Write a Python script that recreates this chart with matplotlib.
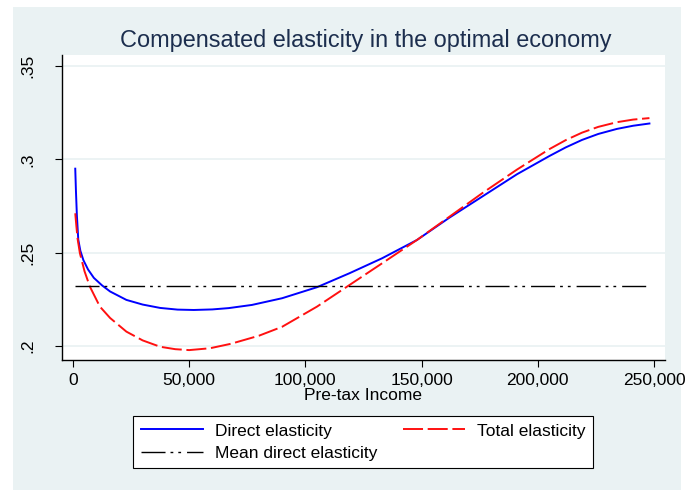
import matplotlib
matplotlib.use("Agg")
import matplotlib.pyplot as plt
from matplotlib.patches import Rectangle
from matplotlib.ticker import FuncFormatter

plt.rcParams["font.family"] = ["Liberation Sans", "DejaVu Sans"]

# Direct elasticity by pre-tax income
direct_income = [1000, 1300, 1700, 2300, 3200, 4500, 6500, 9000, 12500, 16000,
                 23000, 30000, 37500, 45000, 52000, 60000, 67000, 77000, 90000,
                 105000, 119000, 133000, 148000, 162000, 176000, 191000, 205000,
                 212000, 219000, 226000, 234000, 241000, 248000]
direct_elast = [0.2950, 0.2830, 0.2700, 0.2570, 0.2510, 0.2460, 0.2410, 0.2365,
                0.2325, 0.2292, 0.2247, 0.2222, 0.2204, 0.2195, 0.2193, 0.2196,
                0.2203, 0.2220, 0.2256, 0.2315, 0.2390, 0.2470, 0.2568, 0.2688,
                0.2800, 0.2920, 0.3018, 0.3064, 0.3104, 0.3136, 0.3163, 0.3180,
                0.3192]

# Total elasticity by pre-tax income
total_income = [1000, 1500, 2000, 3000, 5000, 7300, 11600, 16000, 23000, 30000,
                37500, 44000, 50000, 59000, 68000, 80000, 90000, 105000, 119000,
                133000, 148000, 162000, 176000, 191000, 205000, 212000, 219000,
                226000, 234000, 241000, 248000]
total_elast = [0.2711, 0.2640, 0.2575, 0.2497, 0.2400, 0.2318, 0.2211, 0.2150,
               0.2077, 0.2030, 0.1996, 0.1983, 0.1978, 0.1988, 0.2012, 0.2055,
               0.2103, 0.2211, 0.2327, 0.2443, 0.2568, 0.2693, 0.2818, 0.2945,
               0.3055, 0.3103, 0.3143, 0.3174, 0.3199, 0.3213, 0.3221]

mean_income = [1000, 248000]
mean_direct = 0.2322

x_ticks = [0, 50000, 100000, 150000, 200000, 250000]
y_ticks = [0.20, 0.25, 0.30, 0.35]
y_tick_labels = [".2", ".25", ".3", ".35"]

W, H = 685, 490
BG = "#eaf2f3"

fig = plt.figure(figsize=(W / 100, H / 100), dpi=100, facecolor="white")
fig.patches.append(Rectangle((13 / W, 0), (681 - 13) / W, 1 - 7 / H,
                             transform=fig.transFigure, facecolor=BG,
                             edgecolor="none", zorder=-1))

ax = fig.add_axes([62 / W, 1 - 360 / H, (665 - 62) / W, (360 - 55) / H])
ax.set_zorder(1)
ax.set_facecolor("white")

lw_black = 1.0
h_direct, = ax.plot(direct_income, direct_elast, color="#0000ff", lw=1.4,
                    label="Direct elasticity", zorder=3)
h_total, = ax.plot(total_income, total_elast, color="#ff1010", lw=1.4,
                   linestyle=(0, (10.3, 2.4)), label="Total elasticity", zorder=3)
h_mean, = ax.plot(mean_income, [mean_direct] * len(mean_income), color="black",
                  lw=lw_black,
                  linestyle=(0, (17.3 / lw_black, 3.6 / lw_black, 2.0 / lw_black,
                                 3.6 / lw_black, 2.0 / lw_black, 4.3 / lw_black)),
                  label="Mean direct elasticity", zorder=3)

ax.set_xlim(-4700, 254700)
ax.set_ylim(0.1925, 0.3559)

ax.set_xticks(x_ticks)
ax.xaxis.set_major_formatter(FuncFormatter(lambda v, _: f"{int(v):,}"))
ax.set_yticks(y_ticks)
ax.set_yticklabels(y_tick_labels, rotation=90, va="center")

ax.grid(axis="y", color=BG, lw=1.3, zorder=1)
ax.set_axisbelow(True)

for side in ("top", "right"):
    ax.spines[side].set_visible(False)
for side in ("left", "bottom"):
    ax.spines[side].set_linewidth(1.0)
    ax.spines[side].set_color("black")

ax.tick_params(axis="both", direction="out", length=5, width=0.8,
               labelsize=12.5, colors="black")
ax.tick_params(axis="y", pad=14)
ax.tick_params(axis="x", pad=4)

ax.set_xlabel("Pre-tax Income", fontsize=12.5, labelpad=0)
fig.text(0.534, 1 - 40 / H, "Compensated elasticity in the optimal economy",
         ha="center", va="center", fontsize=16.9, color="#1c2e4e")

# column-major fill: Direct / Mean in column one, Total in column two
leg = fig.legend([h_direct, h_mean, h_total],
                 ["Direct elasticity", "Mean direct elasticity", "Total elasticity"],
                 loc="center", bbox_to_anchor=(363 / W, 1 - 442 / H), ncol=2,
                 fontsize=12.5, frameon=True, fancybox=False, shadow=False,
                 handlelength=3.6, handletextpad=0.65, columnspacing=1.5,
                 labelspacing=0.4, borderpad=0.45, borderaxespad=0)
leg.get_frame().set_edgecolor("black")
leg.get_frame().set_linewidth(0.8)
leg.get_frame().set_facecolor("white")
leg.get_frame().set_alpha(1)

fig.savefig("out.png", dpi=100, facecolor=fig.get_facecolor())
